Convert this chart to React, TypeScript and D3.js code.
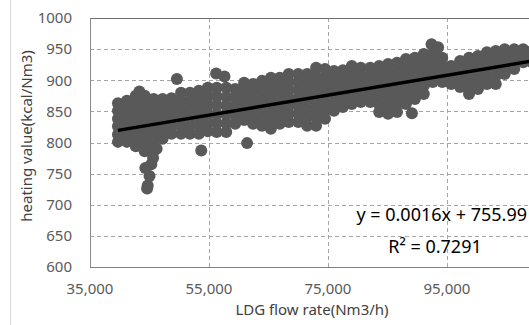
import React from "react";
import * as d3 from "d3";

// Scatter, grouped by flow rate (Nm3/h) -> heating values (kcal/Nm3)
const flowRates = [
  39700, 41200, 42700, 44200, 45700, 47200, 48700, 50300, 51800, 53300,
  54800, 56300, 57900, 59400, 60900, 62400, 63900, 65400, 66900, 68400,
  70000, 71500, 73000, 74500, 76000, 77500, 79000, 80500, 82100, 83600,
  85100, 86600, 88100, 89600, 91100, 92600, 94200, 95700, 97200, 98700,
  100200, 101700, 103200, 104700, 106300, 107800, 109300,
];

const heatingValues = [
  [801, 813, 826, 838, 851, 863],
  [801, 814, 827, 840, 853, 867],
  [794, 806, 818, 830, 842, 854, 865, 875],
  [786, 799, 812, 825, 838, 850, 863, 875],
  [786, 798, 810, 822, 834, 846, 858, 870],
  [806, 819, 832, 845, 857, 870],
  [814, 826, 838, 849, 860, 871],
  [814, 827, 840, 853, 867, 880],
  [814, 827, 840, 853, 866, 880],
  [814, 828, 842, 855, 869, 883],
  [818, 832, 846, 860, 874, 888],
  [817, 831, 845, 860, 874, 888],
  [817, 831, 845, 859, 873, 888],
  [830, 844, 858, 872, 886],
  [836, 848, 860, 872, 884, 896],
  [830, 843, 856, 868, 881, 894],
  [827, 841, 855, 870, 884, 899],
  [822, 836, 850, 863, 877, 890, 904],
  [830, 842, 855, 867, 879, 892, 904],
  [833, 846, 859, 872, 885, 897, 910],
  [833, 846, 859, 871, 884, 897, 910],
  [827, 841, 855, 868, 882, 896, 910],
  [827, 840, 853, 867, 880, 893, 906, 920],
  [838, 851, 864, 878, 891, 904, 918],
  [851, 864, 877, 889, 902, 915],
  [857, 869, 881, 892, 904, 916],
  [862, 874, 886, 899, 911, 923],
  [865, 876, 887, 898, 909, 920],
  [865, 876, 887, 898, 909, 920],
  [849, 861, 874, 886, 898, 911, 923],
  [846, 859, 873, 886, 899, 913, 926],
  [849, 862, 875, 888, 902, 915, 928],
  [862, 874, 886, 898, 910, 922, 934],
  [870, 883, 896, 910, 923, 936],
  [878, 891, 904, 916, 929, 942],
  [897, 908, 920, 931, 942],
  [897, 910, 923, 936],
  [894, 904, 913, 923],
  [889, 903, 917, 931],
  [878, 890, 901, 913, 924, 936],
  [886, 899, 913, 926, 939],
  [894, 907, 920, 932, 945],
  [894, 907, 920, 934, 947],
  [910, 923, 937, 950],
  [918, 929, 939, 950],
  [929, 940, 950],
  [929, 938, 947],
];

// stray points and the low tail near 45,000
const outlierFlow = [43300, 49600, 53700, 56200, 57600, 61400, 89100, 92400, 93500,
  46200, 45600, 45300, 44300, 45000, 44700, 44600];
const outlierHeat = [882, 902, 787, 911, 906, 799, 847, 958, 953,
  790, 775, 765, 759, 746, 731, 726];

const slope = 0.0016;
const intercept = 755.99;
const rSquared = 0.7291;

// 115,000 gridline sits past the visible edge, so only these get labels
const xTicks = [35000, 55000, 75000, 95000];
const yTicks = [600, 650, 700, 750, 800, 850, 900, 950, 1000];

const W = 529;
const H = 325;

export default function App() {
  const x = d3.scaleLinear().domain([35000, 115000]).range([90, 566]);
  const y = d3.scaleLinear().domain([600, 1000]).range([267, 18]);

  const points: [number, number][] = [];
  flowRates.forEach((f, i) => heatingValues[i].forEach(v => points.push([f, v])));
  outlierFlow.forEach((f, i) => points.push([f, outlierHeat[i]]));

  const [xMin, xMax] = d3.extent(points, d => d[0]) as [number, number];
  const trend = d3.line<number>().x(d => x(d)).y(d => y(slope * d + intercept));

  const fmt = d3.format(",");
  const font = "'Noto Sans', sans-serif";

  return (
    <svg width={W} height={H} style={{ position: "absolute", left: 0, top: 0, background: "#fff" }}>
      <line x1={10.5} x2={10.5} y1={0} y2={H} stroke="#d9d9d9" />

      {/* grid */}
      {yTicks.slice(1, -1).map(t => (
        <line key={"h" + t} x1={90} x2={566} y1={Math.round(y(t)) + 0.5} y2={Math.round(y(t)) + 0.5}
          stroke="#a6a6a6" strokeDasharray="4,3" />
      ))}
      {xTicks.slice(1).map(t => (
        <line key={"v" + t} x1={Math.round(x(t)) + 0.5} x2={Math.round(x(t)) + 0.5} y1={18} y2={267}
          stroke="#a6a6a6" strokeDasharray="4,3" />
      ))}
      <line x1={90} x2={566} y1={18.5} y2={18.5} stroke="#6e6e6e" />
      <line x1={90.5} x2={90.5} y1={18} y2={267} stroke="#8c8c8c" />
      <line x1={90} x2={566} y1={267.5} y2={267.5} stroke="#7f7f7f" />

      {/* points */}
      <g fill="#595959">
        {points.map((p, i) => (
          <circle key={i} cx={x(p[0])} cy={y(p[1])} r={6} />
        ))}
      </g>

      <path d={trend([xMin, xMax]) || ""} stroke="#000" strokeWidth={3.5} fill="none" />

      {/* axis labels */}
      <g fontFamily={font} fontSize={15} fill="#595959">
        {yTicks.map(t => (
          <text key={"yl" + t} x={72} y={y(t)} dy="0.35em" textAnchor="end">{t}</text>
        ))}
        {xTicks.map(t => (
          <text key={"xl" + t} x={x(t)} y={294} textAnchor="middle">{fmt(t)}</text>
        ))}
      </g>
      <text x={312} y={315} textAnchor="middle" fontFamily={font} fontSize={15} fill="#404040">
        LDG flow rate(Nm3/h)
      </text>
      <text transform="translate(32,136) rotate(-90)" textAnchor="middle" fontFamily={font}
        fontSize={15} fill="#404040">
        heating value(kcal/Nm3)
      </text>

      {/* trendline equation */}
      <g fontFamily={font} fontSize={18} fill="#000">
        <text x={527} y={221} textAnchor="end">{`y = ${slope}x + ${intercept}`}</text>
        <text x={435} y={253} textAnchor="middle">{`R² = ${rSquared}`}</text>
      </g>
    </svg>
  );
}
